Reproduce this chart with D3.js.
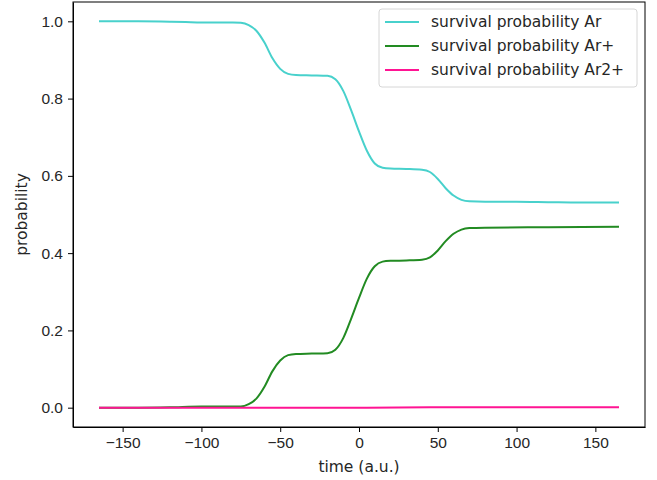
<!DOCTYPE html>
<html>
<head>
<meta charset="utf-8">
<script src="https://cdn.jsdelivr.net/npm/d3@7"></script>
<style>
  body { margin: 0; background: #fff; }
  svg { font-family: "DejaVu Sans", sans-serif; }
  .axis text { font-size: 15.5px; fill: #262626; }
  .axis path, .axis line { stroke: #000; }
</style>
</head>
<body>
<svg id="chart"></svg>
<script>
// time samples (a.u.)
const timeAr = [-165, -140, -120, -110, -100, -80, -75, -70, -65, -60, -55, -50, -45, -40, -30, -20, -15, -10, -5, 0, 5, 10, 15, 20, 30, 40, 45, 50, 55, 60, 65, 70, 80, 100, 120, 140, 165];
const probAr = [1.000, 1.000, 0.999, 0.998, 0.997, 0.997, 0.996, 0.990, 0.975, 0.945, 0.905, 0.877, 0.864, 0.861, 0.860, 0.859, 0.850, 0.820, 0.770, 0.715, 0.665, 0.632, 0.621, 0.619, 0.618, 0.616, 0.610, 0.592, 0.568, 0.549, 0.538, 0.534, 0.533, 0.533, 0.532, 0.531, 0.531];

const timeArPlus = [-165, -140, -120, -100, -75, -70, -65, -60, -55, -50, -45, -40, -30, -20, -15, -10, -5, 0, 5, 10, 15, 20, 30, 40, 45, 50, 55, 60, 65, 70, 80, 120, 165];
const probArPlus = [0.000, 0.000, 0.001, 0.003, 0.003, 0.009, 0.024, 0.054, 0.094, 0.122, 0.136, 0.139, 0.140, 0.141, 0.150, 0.180, 0.230, 0.284, 0.334, 0.366, 0.378, 0.380, 0.381, 0.383, 0.389, 0.407, 0.431, 0.450, 0.461, 0.465, 0.466, 0.467, 0.468];

const timeAr2Plus = [-165, -100, 0, 50, 100, 165];
const probAr2Plus = [0.000, 0.000, 0.000, 0.001, 0.001, 0.001];

const seriesNames = ['survival probability Ar', 'survival probability Ar+', 'survival probability Ar2+'];
const seriesColors = ['#48d1cc', '#228b22', '#ff1493'];

const xTicks = [-150, -100, -50, 0, 50, 100, 150];
const yTicks = [0.0, 0.2, 0.4, 0.6, 0.8, 1.0];

class SurvivalChart {

  constructor(_config, _series) {
    this.config = {
      parentElement: _config.parentElement,
      containerWidth: _config.containerWidth || 657,
      containerHeight: _config.containerHeight || 480,
      margin: _config.margin || {top: 2, right: 12, bottom: 53, left: 73}
    }
    this.series = _series;
    this.initVis();
  }

  initVis() {
    let vis = this;

    vis.width = vis.config.containerWidth - vis.config.margin.left - vis.config.margin.right;
    vis.height = vis.config.containerHeight - vis.config.margin.top - vis.config.margin.bottom;

    // matplotlib style 5% padding around the data
    vis.xScale = d3.scaleLinear()
      .domain([-181.5, 181.5])
      .range([0, vis.width]);

    vis.yScale = d3.scaleLinear()
      .domain([-0.05, 1.05])
      .range([vis.height, 0]);

    vis.xAxis = d3.axisBottom(vis.xScale)
      .tickValues(xTicks)
      .tickSize(5)
      .tickSizeOuter(0)
      .tickPadding(5)
      .tickFormat(d => d3.format('d')(d).replace('-', '\u2212'));

    vis.yAxis = d3.axisLeft(vis.yScale)
      .tickValues(yTicks)
      .tickSize(5)
      .tickSizeOuter(0)
      .tickPadding(5)
      .tickFormat(d3.format('.1f'));

    vis.svg = d3.select(vis.config.parentElement)
      .attr('width', vis.config.containerWidth)
      .attr('height', vis.config.containerHeight);

    vis.chart = vis.svg.append('g')
      .attr('transform', `translate(${vis.config.margin.left},${vis.config.margin.top})`);

    vis.xAxisG = vis.chart.append('g')
      .attr('class', 'axis x-axis')
      .attr('transform', `translate(0,${vis.height})`);

    vis.yAxisG = vis.chart.append('g')
      .attr('class', 'axis y-axis');

    // axis titles
    vis.svg.append('text')
      .attr('x', vis.config.margin.left + vis.width / 2)
      .attr('y', 472)
      .attr('text-anchor', 'middle')
      .attr('font-size', '15.5px')
      .attr('fill', '#262626')
      .text('time (a.u.)');

    vis.svg.append('text')
      .attr('transform', `translate(27,${vis.config.margin.top + vis.height / 2}) rotate(-90)`)
      .attr('text-anchor', 'middle')
      .attr('font-size', '15.5px')
      .attr('fill', '#262626')
      .text('probability');

    vis.renderVis();
  }

  renderVis() {
    let vis = this;

    const line = d3.line()
      .x(d => vis.xScale(d[0]))
      .y(d => vis.yScale(d[1]))
      .curve(d3.curveMonotoneX);

    vis.chart.selectAll('.series')
      .data(vis.series)
      .join('path')
        .attr('class', 'series')
        .attr('fill', 'none')
        .attr('stroke', d => d.color)
        .attr('stroke-width', 2)
        .attr('d', d => line(d.values));

    vis.xAxisG.call(vis.xAxis);
    vis.yAxisG.call(vis.yAxis);

    // frame around the plot area
    vis.chart.append('rect')
      .attr('width', vis.width)
      .attr('height', vis.height)
      .attr('fill', 'none')
      .attr('stroke', '#000')
      .attr('stroke-width', 1);

    // legend
    const legend = vis.chart.append('g')
      .attr('transform', `translate(${379 - vis.config.margin.left},${9 - vis.config.margin.top})`);

    legend.append('rect')
      .attr('width', 258)
      .attr('height', 78)
      .attr('rx', 3)
      .attr('fill', '#fff')
      .attr('fill-opacity', 0.8)
      .attr('stroke', '#d6d6d6');

    const items = legend.selectAll('.legend-item')
      .data(vis.series)
      .join('g')
        .attr('class', 'legend-item')
        .attr('transform', (d, i) => `translate(0,${13 + i * 24})`);

    items.append('line')
      .attr('x1', 6)
      .attr('x2', 40)
      .attr('stroke', d => d.color)
      .attr('stroke-width', 2);

    items.append('text')
      .attr('x', 52)
      .attr('dy', '0.35em')
      .attr('font-size', '15.5px')
      .attr('fill', '#262626')
      .text(d => d.name);
  }
}

const series = [
  {name: seriesNames[0], color: seriesColors[0], values: d3.zip(timeAr, probAr)},
  {name: seriesNames[1], color: seriesColors[1], values: d3.zip(timeArPlus, probArPlus)},
  {name: seriesNames[2], color: seriesColors[2], values: d3.zip(timeAr2Plus, probAr2Plus)}
];

new SurvivalChart({parentElement: '#chart'}, series);
</script>
</body>
</html>
